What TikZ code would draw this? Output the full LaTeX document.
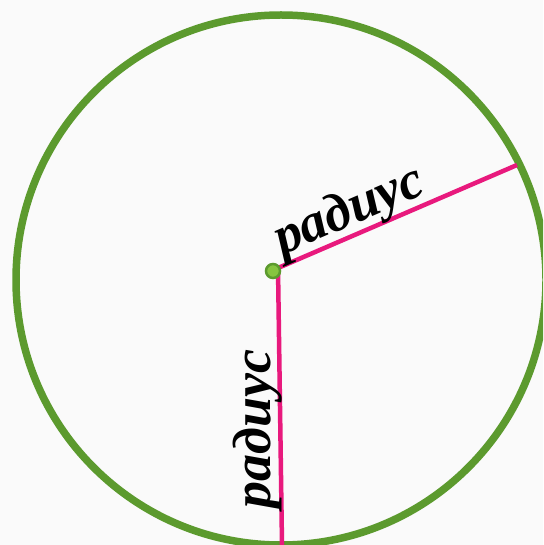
\documentclass[tikz,border=0pt]{standalone}
\usepackage{fontspec}
\setmainfont{Liberation Serif}
\definecolor{ringgreen}{HTML}{5C9A2E}
\definecolor{dotlight}{HTML}{86C440}
\definecolor{radpink}{HTML}{E8197D}
\definecolor{bggray}{HTML}{FAFAFA}
\tikzset{
  ring/.style={draw=ringgreen, line width=7.5pt},
  radline/.style={draw=radpink, line width=4.5pt},
  lbl/.style={font=\fontsize{54}{54}\selectfont\bfseries\itshape, text=black, inner sep=0pt, anchor=base},
}
\begin{document}
\begin{tikzpicture}[x=1pt,y=-1pt]
\fill[bggray] (0,0) rectangle (543,545);
\useasboundingbox (0,0) rectangle (543,545);
\coordinate (c) at (281,280);
\coordinate (o) at (278,268);
\coordinate (a) at (517,165);
\coordinate (b) at (282,545);
\begin{scope}
\clip (0,0) rectangle (543,545);
\draw[ring] (c) circle[radius=265];
\draw[radline] (o) -- (a);
\draw[radline] (b) -- (o);
\end{scope}
\node[lbl, rotate=23.3] (l1) at (355,224) {радиус};
\node[lbl, rotate=90] (l2) at (270,429) {радиус};
\node[circle, fill=dotlight, draw=ringgreen, line width=2.5pt, minimum size=14pt, inner sep=0pt] (dot) at (273,271) {};
\end{tikzpicture}
\end{document}
